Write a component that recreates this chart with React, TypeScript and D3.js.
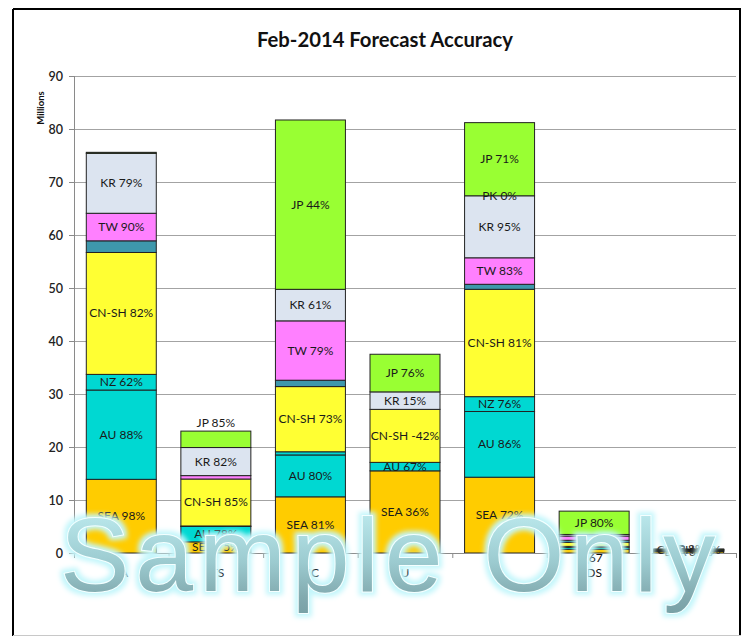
import React from "react";
import * as d3 from "d3";

const title = "Feb-2014 Forecast Accuracy";
const categories = [", A", "ITS", "HC", "U", "S", "DS", "L"];
const categoryUpper = ["", "", "", "", "", "(67", ""];
const yTicks = [0, 10, 20, 30, 40, 50, 60, 70, 80, 90];
const seriesNames = ["SEA", "AU", "NZ", "CN-SH", "HK", "TW", "KR", "PK", "JP"];

// segment values in millions, per category
const SEA = [13.9, 2.1, 10.6, 15.5, 14.3, 0.7, 0.3];
const AU = [16.85, 2.9, 7.9, 1.6, 12.4, 0.35, 0.1];
const NZ = [2.95, 0.1, 0.6, 0.0, 2.8, 0.2, 0.05];
const CNSH = [23.0, 8.86, 12.3, 10.0, 20.25, 0.75, 0.1];
const HK = [2.2, 0.0, 1.2, 0.0, 0.95, 0.4, 0.05];
const TW = [5.2, 0.64, 11.2, 0.0, 5.0, 0.8, 0.05];
const KR = [11.3, 5.3, 5.95, 3.3, 11.7, 0.3, 0.05];
const PK = [0, 0, 0, 0, 0, 0, 0];
const JP = [0.2, 3.1, 31.95, 7.1, 13.8, 4.4, 0.05];

// accuracy labels (%), null = not shown
const SEA_pct = [98, 75, 81, 36, 72, null, 31];
const AU_pct = [88, 78, 80, 67, 86, null, null];
const NZ_pct = [62, null, null, null, 76, null, null];
const CNSH_pct = [82, 85, 73, -42, 81, null, 11];
const HK_pct = [null, null, null, null, null, null, null];
const TW_pct = [90, null, 79, null, 83, null, null];
const KR_pct = [79, 82, 61, 15, 95, null, null];
const PK_pct = [null, null, null, null, 0, null, null];
const JP_pct = [null, 85, 44, 76, 71, 80, 8];

const values: Record<string, number[]> = { SEA, AU, NZ, "CN-SH": CNSH, HK, TW, KR, PK, JP };
const pcts: Record<string, (number | null)[]> = {
  SEA: SEA_pct, AU: AU_pct, NZ: NZ_pct, "CN-SH": CNSH_pct, HK: HK_pct,
  TW: TW_pct, KR: KR_pct, PK: PK_pct, JP: JP_pct,
};

const colors: Record<string, string> = {
  SEA: "#FFCC00",
  AU: "#00D8D2",
  NZ: "#00D8D2",
  "CN-SH": "#FFFF33",
  HK: "#3E98AC",
  TW: "#FF80FF",
  KR: "#DCE4F0",
  PK: "#DCE4F0",
  JP: "#99FF33",
};

// label nudges (style)
const labelDy: Record<string, number> = { "1|JP": -16 };

const W = 748, H = 638;
const left = 74, right = 736, top = 76, bottom = 553;

export default function App() {
  const rows = categories.map((c, i) => {
    const r: any = { idx: i };
    seriesNames.forEach((s) => (r[s] = values[s][i]));
    return r;
  });
  const stacked = d3.stack<any>().keys(seriesNames)(rows);
  const x = d3
    .scaleBand<number>()
    .domain(categories.map((_, i) => i))
    .range([left, right])
    .paddingInner(0.26)
    .paddingOuter(0.13);
  const y = d3.scaleLinear().domain([0, 90]).range([bottom, top]);
  const step = x.step();
  const font = "Lato, 'Open Sans', sans-serif";

  return (
    <svg
      width={W}
      height={H}
      style={{ position: "absolute", left: 0, top: 0, background: "#fff" }}
      fontFamily={font}
    >
      <defs>
        <linearGradient id="wmGrad" gradientUnits="userSpaceOnUse" x1="0" y1="515" x2="0" y2="632">
          <stop offset="0" stopColor="#b9e7eb" />
          <stop offset="0.4" stopColor="#9ccbd0" />
          <stop offset="0.7" stopColor="#82aaaf" />
          <stop offset="1" stopColor="#6d969c" />
        </linearGradient>
        <filter id="glow" x="-10%" y="-30%" width="120%" height="160%">
          <feMorphology in="SourceAlpha" operator="dilate" radius="3" result="d" />
          <feGaussianBlur in="d" stdDeviation="2.5" result="b" />
          <feFlood floodColor="#c4f6fb" />
          <feComposite in2="b" operator="in" result="g" />
          <feMerge>
            <feMergeNode in="g" />
            <feMergeNode in="SourceGraphic" />
          </feMerge>
        </filter>
      </defs>
      <rect x={0} y={0} width={W} height={H} fill="#fff" />
      {/* frame */}
      <line x1={13} y1={9} x2={741} y2={9} stroke="#000" strokeWidth={2} />
      <line x1={13} y1={9} x2={13} y2={636} stroke="#000" strokeWidth={2} />
      <line x1={740} y1={9} x2={740} y2={636} stroke="#000" strokeWidth={2} />
      <line x1={13} y1={635.5} x2={741} y2={635.5} stroke="#c8c8c8" strokeWidth={1} />

      <text x={385} y={47} textAnchor="middle" fontSize={21} fontWeight={700} fill="#111" textLength={256} lengthAdjust="spacingAndGlyphs">
        {title}
      </text>

      {/* gridlines */}
      {yTicks.filter((t) => t > 0).map((t) => (
        <line key={t} x1={left} x2={right} y1={Math.round(y(t)) + 0.5} y2={Math.round(y(t)) + 0.5} stroke="#a3a3a3" strokeWidth={1} />
      ))}
      {/* y axis */}
      <line x1={left + 0.5} x2={left + 0.5} y1={top} y2={bottom} stroke="#8a8a8a" />
      {yTicks.map((t) => (
        <g key={t}>
          <line x1={left - 5} x2={left} y1={Math.round(y(t)) + 0.5} y2={Math.round(y(t)) + 0.5} stroke="#8a8a8a" />
          <text x={63} y={y(t) + 4.5} textAnchor="end" fontSize={12.5} fontWeight={600} fill="#222">
            {t}
          </text>
        </g>
      ))}
      <text transform={`translate(44,108) rotate(-90)`} textAnchor="middle" fontSize={9.5} fontWeight={700} fill="#111">
        Millions
      </text>

      {/* bars */}
      {stacked.map((layer) =>
        layer.map((d, i) => {
          const y0 = y(d[0]);
          const y1 = y(d[1]);
          return (
            <rect
              key={layer.key + i}
              x={x(i)!}
              y={y1}
              width={x.bandwidth()}
              height={Math.max(0, y0 - y1)}
              fill={colors[layer.key]}
              stroke="#222"
              strokeWidth={1}
            />
          );
        })
      )}
      {/* category axis */}
      <line x1={left} x2={right} y1={bottom + 0.5} y2={bottom + 0.5} stroke="#8a8a8a" />
      {d3.range(categories.length + 1).map((k) => (
        <line key={k} x1={left + k * step + 0.5} x2={left + k * step + 0.5} y1={bottom} y2={bottom + 5} stroke="#8a8a8a" />
      ))}
      {/* data labels */}
      {stacked.map((layer) =>
        layer.map((d, i) => {
          const p = pcts[layer.key][i];
          if (p === null || p === undefined) return null;
          const cy = (y(d[0]) + y(d[1])) / 2 + (labelDy[i + "|" + layer.key] || 0);
          return (
            <text
              key={"l" + layer.key + i}
              x={x(i)! + x.bandwidth() / 2}
              y={cy + 4}
              textAnchor="middle"
              fontSize={12}
              fill="#1a1a1a"
            >
              {`${layer.key} ${p}%`}
            </text>
          );
        })
      )}
      {/* category labels */}
      {categories.map((c, i) => (
        <g key={"c" + i}>
          <text x={x(i)! + x.bandwidth() / 2} y={562} textAnchor="middle" fontSize={12} fill="#111">
            {categoryUpper[i]}
          </text>
          <text x={x(i)! + x.bandwidth() / 2} y={577} textAnchor="middle" fontSize={12} fill="#111">
            {c}
          </text>
        </g>
      ))}

      {/* watermark */}
      <text
        x={60}
        y={591}
        fontFamily="'Liberation Sans', Arial, sans-serif"
        fontSize={104}
        letterSpacing={6}
        fill="url(#wmGrad)"
        stroke="#f4ffff"
        strokeWidth={2}
        filter="url(#glow)"
        style={{ paintOrder: "stroke" } as any}
      >
        Sample Only
      </text>
    </svg>
  );
}
